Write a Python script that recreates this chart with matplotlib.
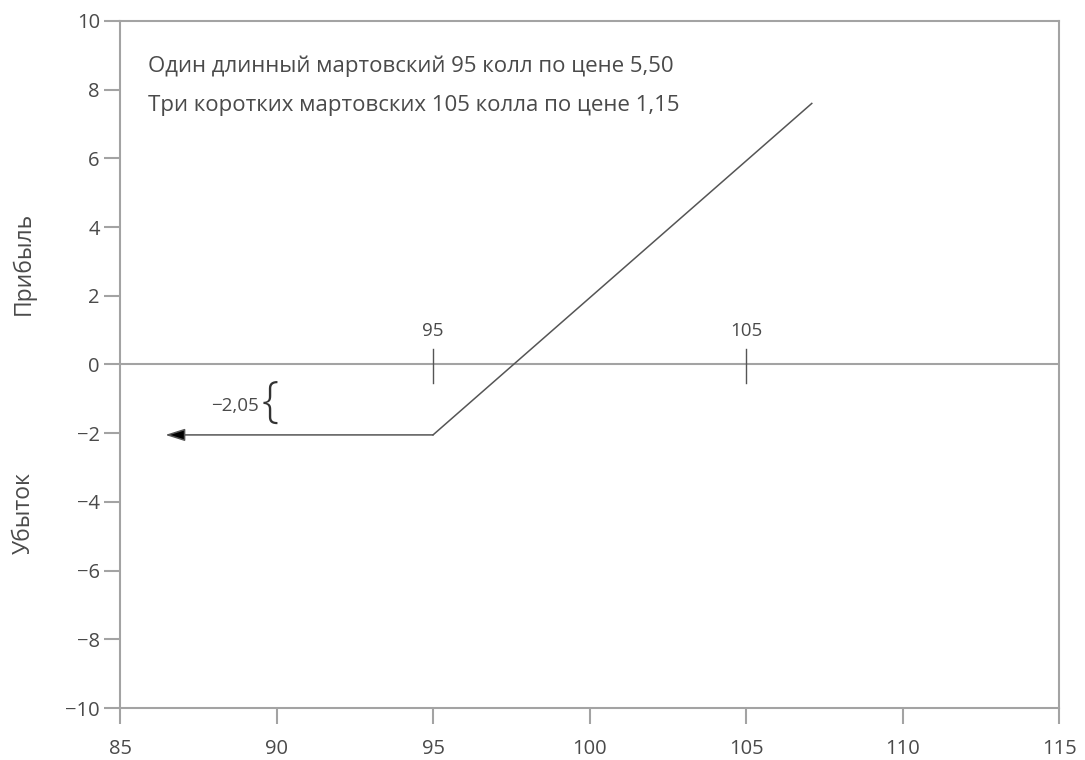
import matplotlib.pyplot as plt

plt.rcParams['font.family'] = ['Open Sans', 'DejaVu Sans']

# данные графика
x_ticks = [85, 90, 95, 100, 105, 110, 115]
y_ticks = [-10, -8, -6, -4, -2, 0, 2, 4, 6, 8, 10]
strikes = [95, 105]
payoff_x = [95, 107.1]
payoff_y = [-2.05, 7.6]
arrow_end_x = 86.45
max_loss = -2.05
notes = ['Один длинный мартовский 95 колл по цене 5,50',
         'Три коротких мартовских 105 колла по цене 1,15']

axis_col = '#a3a3a3'
text_col = '#4a4a4a'

fig = plt.figure(figsize=(10.85, 7.6), dpi=100)
ax = fig.add_axes([0.1106, 0.0684, 0.8655, 0.904])

ax.set_xlim(85, 115)
ax.set_ylim(-10, 10)
ax.set_xticks(x_ticks)
ax.set_yticks(y_ticks)
ax.set_yticklabels([str(v).replace('-', '\u2212') for v in y_ticks])
ax.tick_params(direction='out', length=11.5, width=1.5, color=axis_col,
               labelsize=14.5, labelcolor=text_col, pad=3)
ax.tick_params(axis='x', pad=11)
for sp in ax.spines.values():
    sp.set_color(axis_col)
    sp.set_linewidth(1.5)

# нулевая линия и отметки страйков
ax.axhline(0, color=axis_col, lw=1.5, zorder=1)
for k in strikes:
    ax.plot([k, k], [0.45, -0.55], color='#555555', lw=1.0)
    ax.text(k, 0.7, str(k), ha='center', va='bottom', fontsize=13.5, color=text_col)

# профиль прибыли/убытка
ax.plot(payoff_x, payoff_y, color='#555555', lw=1.1)
ax.annotate('', xy=(arrow_end_x, max_loss), xytext=(payoff_x[0], max_loss),
            arrowprops=dict(arrowstyle='-|>,head_length=1.2,head_width=0.38',
                            color='#555555', lw=1.1, fc='black', shrinkA=0, shrinkB=0))

ax.text(89.8, -1.15, '{', ha='center', va='center', fontsize=35, color='#333333',
        fontweight='light')
ax.text(89.45, -1.2, str(max_loss).replace('.', ',').replace('-', '\u2212'),
        ha='right', va='center', fontsize=13.5, color=text_col)

for i, s in enumerate(notes):
    ax.text(85.9, 8.68 - 1.14 * i, s, ha='left', va='center', fontsize=16, color=text_col)

fig.text(0.022, 0.654, 'Прибыль', rotation=90, ha='center', va='center',
         fontsize=16.5, color=text_col)
fig.text(0.022, 0.325, 'Убыток', rotation=90, ha='center', va='center',
         fontsize=16.5, color=text_col)

fig.savefig('out.png', dpi=100)
